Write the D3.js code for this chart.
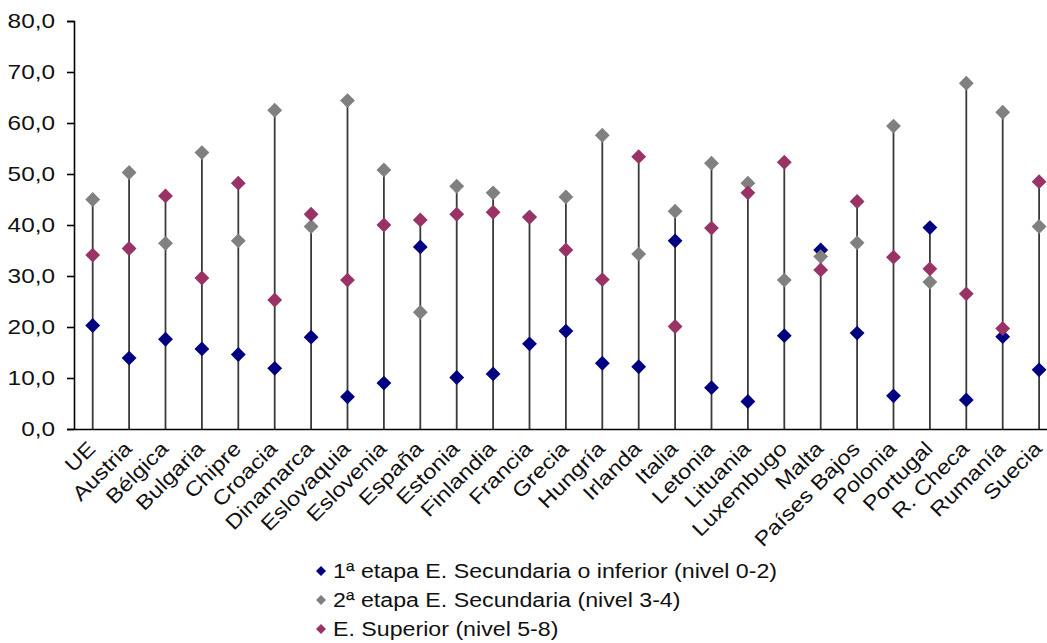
<!DOCTYPE html>
<html><head><meta charset="utf-8">
<script src="https://cdn.jsdelivr.net/npm/d3@7"></script>
<style>body{margin:0;background:#fff;} svg{display:block;} text{font-family:"Liberation Sans",Arial,sans-serif;fill:#111;}</style>
</head><body>
<svg id="c" width="1047" height="643"></svg>
<script>
const categories = ["UE","Austria","Bélgica","Bulgaria","Chipre","Croacia","Dinamarca","Eslovaquia","Eslovenia","España","Estonia","Finlandia","Francia","Grecia","Hungría","Irlanda","Italia","Letonia","Lituania","Luxembugo","Malta","Países Bajos","Polonia","Portugal","R. Checa","Rumanía","Suecia"];
const nivel02 = [20.3,13.9,17.6,15.7,14.6,11.9,18.0,6.3,9.0,35.7,10.1,10.8,16.7,19.2,12.9,12.2,36.9,8.1,5.4,18.3,35.1,18.8,6.5,39.5,5.7,18.1,11.6];
const nivel34 = [45.0,50.3,36.4,54.2,36.9,62.5,39.7,64.4,50.8,22.9,47.6,46.3,41.6,45.5,57.6,34.3,42.7,52.1,48.2,29.2,33.8,36.5,59.4,28.8,67.8,62.1,39.7];
const nivel58 = [34.1,35.4,45.7,29.6,48.2,25.3,42.1,29.2,40.0,41.0,42.1,42.5,41.5,35.1,29.3,53.4,20.1,39.4,46.3,52.3,31.2,44.6,33.7,31.4,26.5,19.7,48.5];
const seriesNames = ["1ª etapa E. Secundaria o inferior (nivel 0-2)","2ª etapa E. Secundaria (nivel 3-4)","E. Superior (nivel 5-8)"];
const yTicks = [0,10,20,30,40,50,60,70,80];

const colors = ["#000080","#808080","#993366"];
const series = [nivel02, nivel34, nivel58];
const SX = 1.16; // horizontal stretch of the reference's text

const svg = d3.select("#c");
const x0 = 74.5, step = 36.4;
const x = d3.scaleBand().domain(categories).range([x0, x0 + step*categories.length]).padding(0);
const y = d3.scaleLinear().domain([0,80]).range([429,21]);
const cx = c => x(c) + x.bandwidth()/2;

// stems (drop lines)
svg.append("g").selectAll("line").data(categories).join("line")
  .attr("x1", cx).attr("x2", cx)
  .attr("y1", (c,i) => y(Math.max(nivel02[i], nivel34[i], nivel58[i])))
  .attr("y2", y(0))
  .attr("stroke","#3a3a3a").attr("stroke-width",1.8);

// y axis
const yAxis = d3.axisLeft(y).tickValues(yTicks).tickSize(7).tickPadding(12)
  .tickFormat(d => d3.format(".1f")(d).replace(".", ","));
const gy = svg.append("g").attr("transform",`translate(74,0)`).call(yAxis);
gy.select(".domain").attr("stroke","#000").attr("stroke-width",1.6);
gy.selectAll(".tick line").attr("stroke","#000").attr("stroke-width",1.6);
gy.selectAll(".tick text").style("font-size","21px").attr("fill","#111")
  .attr("x",0).attr("transform",`translate(-19,0) scale(${SX},1)`);

// x axis
const xAxis = d3.axisBottom(x).tickSize(0).tickPadding(0);
const gx = svg.append("g").attr("transform",`translate(0,${y(0)})`).call(xAxis);
gx.select(".domain").attr("stroke","#000").attr("stroke-width",1.6);
gx.selectAll(".tick text")
  .style("font-size","20.5px").attr("fill","#111")
  .attr("text-anchor","end")
  .attr("dy",null).attr("y",0)
  .attr("transform",`translate(4,21) rotate(-45) scale(${SX},1)`);

// markers
const diamond = d3.symbol(d3.symbolSquare, 110);
series.forEach((s, k) => {
  svg.append("g").selectAll("path").data(s).join("path")
    .attr("d", diamond)
    .attr("transform", (v,i) => `translate(${cx(categories[i])},${y(v)}) rotate(45)`)
    .attr("fill", colors[k]);
});

// legend
const lg = svg.append("g");
seriesNames.forEach((n, k) => {
  const ly = 571 + k*29;
  lg.append("path").attr("d", d3.symbol(d3.symbolSquare, 50))
    .attr("transform", `translate(321,${ly}) rotate(45)`).attr("fill", colors[k]);
  lg.append("text").attr("transform", `translate(333,${ly}) scale(${SX},1)`).attr("dy","0.35em")
    .style("font-size","20px").text(n);
});
</script>
</body></html>
